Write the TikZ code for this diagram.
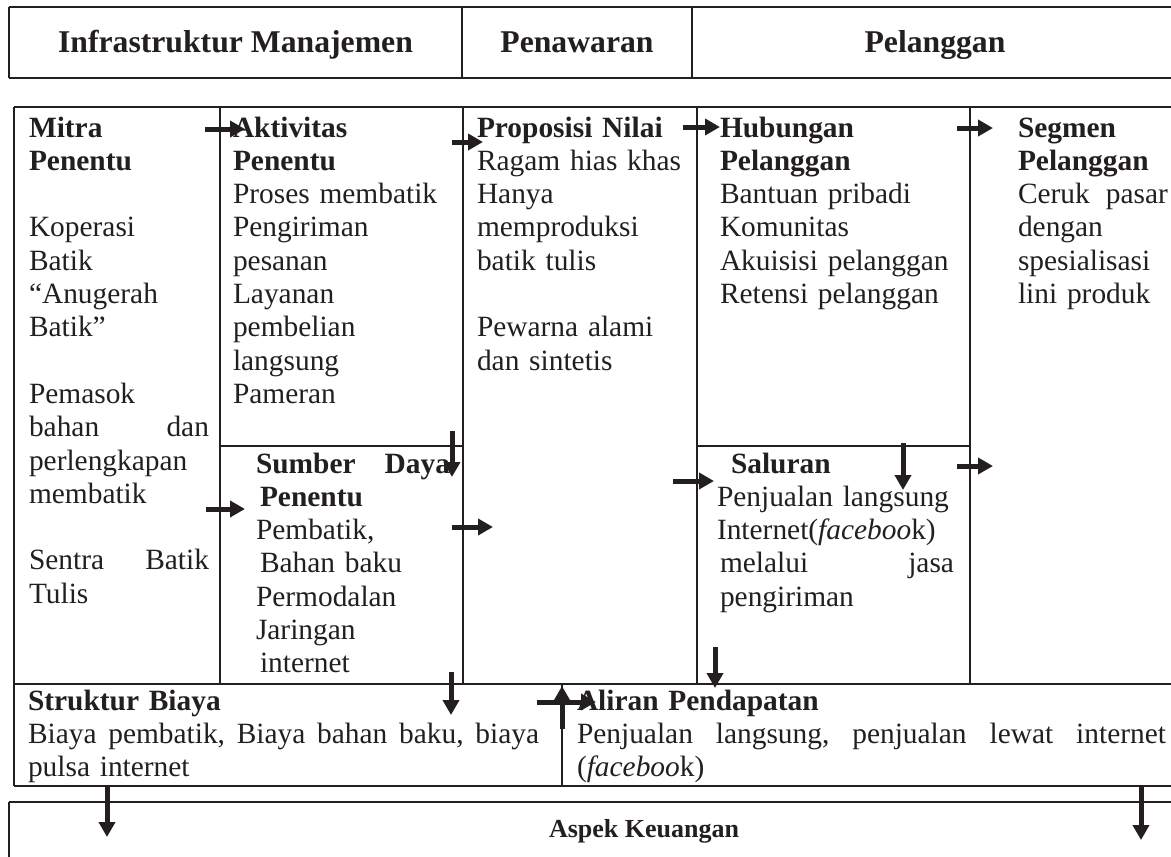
\documentclass[tikz,border=0pt]{standalone}
\usepackage{fontspec}
\setmainfont{Liberation Serif}
\usetikzlibrary{arrows.meta}
\definecolor{ink}{RGB}{35,31,32}
\newcommand\bodyfnt{\fontsize{29.4}{33.3}\selectfont}
\newcommand\headfnt{\fontsize{31.7}{36}\selectfont\bfseries}
\newcommand\aspfnt{\fontsize{26}{30}\selectfont\bfseries}
\newcommand\gap{\\[33.3pt]}
\tikzset{
  body/.style={anchor=base west, inner sep=0pt, outer sep=0pt, align=left, font=\bodyfnt, text=ink},
  head/.style={anchor=base, inner sep=0pt, font=\headfnt, text=ink},
  hline/.style={draw=ink, line width=2.2pt},
  vline/.style={draw=ink, line width=1.4pt},
  arr/.style={draw=ink, line width=5pt, -{Triangle[length=15pt,width=16pt]}},
}
\begin{document}
\begin{tikzpicture}[x=1pt,y=-1pt]
\useasboundingbox (0,0) rectangle (1171,857);
\clip (0,0) rectangle (1171,857);
\fill[white] (0,0) rectangle (1171,857);

% header
\draw[hline] (9,7) -- (1190,7);
\draw[hline] (9,78) -- (1190,78);
\draw[vline] (9,7) -- (9,78);
\draw[vline] (462,7) -- (462,78);
\draw[vline] (692,7) -- (692,78);
\node[head] (hInfra) at (235.5,52) {Infrastruktur Manajemen};
\node[head] (hPen) at (577,52) {Penawaran};
\node[head] (hPel) at (935,52) {Pelanggan};

% canvas frame
\draw[hline] (14,107) -- (1190,107);
\draw[vline] (14,107) -- (14,786);
\draw[vline] (220,107) -- (220,684);
\draw[vline] (463,107) -- (463,684);
\draw[vline] (697,107) -- (697,684);
\draw[vline] (970,107) -- (970,684);
\draw[vline] (220,446) -- (463,446);
\draw[vline] (697,446) -- (970,446);
\draw[hline] (14,684) -- (1190,684);
\draw[vline] (562,684) -- (562,786);
\draw[hline] (14,786) -- (1190,786);
\draw[vline] (9,880) -- (9,802);
\draw[hline] (9,802) -- (1190,802);

% texts
\node[body, text width=180pt] (mitra) at (29,137) {\textbf{Mitra}\\\textbf{Penentu}\gap
Koperasi\\Batik\\``Anugerah\\Batik''\gap
Pemasok\\bahan\hfill dan\\perlengkapan\\membatik\gap
Sentra\hfill Batik\\Tulis};

\node[body, text width=215pt] (aktiv) at (233,137) {\textbf{Aktivitas}\\\textbf{Penentu}\\
Proses membatik\\Pengiriman\\pesanan\\Layanan\\pembelian\\langsung\\Pameran};

\node[body, text width=194pt] (sumber) at (256,473) {\textbf{Sumber\hfill Daya}\\\hspace*{4pt}\textbf{Penentu}\\
Pembatik,\\\hspace*{4pt}Bahan baku\\Permodalan\\Jaringan\\\hspace*{4pt}internet};

\node[body, text width=225pt] (propo) at (477,137) {\textbf{Proposisi Nilai}\\Ragam hias khas\\Hanya\\memproduksi\\batik tulis\gap
\makebox[204pt][s]{Pewarna alami}\\dan sintetis};

\node[body, text width=240pt] (hubung) at (720,137) {\textbf{Hubungan}\\\textbf{Pelanggan}\\Bantuan pribadi\\Komunitas\\Akuisisi pelanggan\\Retensi pelanggan};

\node[body, text width=150pt] (segmen) at (1018,137) {\textbf{Segmen}\\\textbf{Pelanggan}\\Ceruk\hfill pasar\\dengan\\spesialisasi\\lini produk};

\node[body, text width=237pt] (saluran) at (717,473) {\hspace*{14pt}\textbf{Saluran}\\Penjualan langsung\\Internet(\textit{faceboo}k)\\\hspace*{3pt}melalui\hfill jasa\\\hspace*{3pt}pengiriman};

\node[body, text width=511pt] (biaya) at (28,710) {\textbf{Struktur Biaya}\\Biaya\hfill pembatik,\hfill Biaya\hfill bahan\hfill baku,\hfill biaya\\pulsa internet};

\node[body, text width=589pt] (aliran) at (577,710) {\textbf{Aliran Pendapatan}\\Penjualan\hfill langsung,\hfill penjualan\hfill lewat\hfill internet\\(\textit{faceboo}k)};

\node[anchor=base, inner sep=0pt, font=\aspfnt, text=ink] (aspek) at (644,837) {Aspek Keuangan};

% arrows
\coordinate (a1s) at (205,129); \coordinate (a1e) at (245,129);
\coordinate (a2s) at (452,142); \coordinate (a2e) at (483,142);
\coordinate (a3s) at (683,127); \coordinate (a3e) at (720,127);
\coordinate (a4s) at (957,128); \coordinate (a4e) at (993,128);
\coordinate (a5s) at (452,431); \coordinate (a5e) at (452,477);
\coordinate (a6s) at (206,509); \coordinate (a6e) at (245,509);
\coordinate (a7s) at (452,527); \coordinate (a7e) at (493,527);
\coordinate (a8s) at (673,481); \coordinate (a8e) at (714,481);
\coordinate (a9s) at (903,443); \coordinate (a9e) at (903,490);
\coordinate (a10s) at (957,466); \coordinate (a10e) at (993,466);
\coordinate (a11s) at (715,647); \coordinate (a11e) at (715,688);
\coordinate (a12s) at (451,672); \coordinate (a12e) at (451,715);
\coordinate (a13s) at (562,729); \coordinate (a13e) at (562,686);
\coordinate (a14s) at (537,702); \coordinate (a14e) at (596,702);
\coordinate (a15s) at (107,787); \coordinate (a15e) at (107,837);
\coordinate (a16s) at (1141,787); \coordinate (a16e) at (1141,840);
\foreach \i in {1,...,16} {\draw[arr] (a\i s) -- (a\i e);}
\end{tikzpicture}
\end{document}
